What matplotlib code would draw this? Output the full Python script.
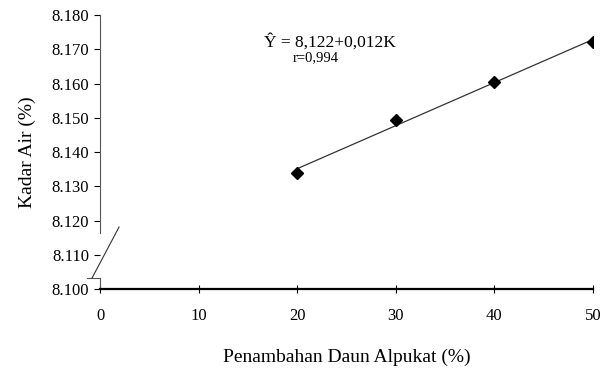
import matplotlib
matplotlib.use('Agg')
import matplotlib.pyplot as plt, numpy as np

plt.rcParams['font.family'] = ['Liberation Serif', 'DejaVu Serif']

# data
daun = [20, 30, 40, 50]
kadar_air = [8.1340, 8.1493, 8.1605, 8.1722]
x_ticks = [0, 10, 20, 30, 40, 50]
y_ticks = [8.100, 8.110, 8.120, 8.130, 8.140, 8.150, 8.160, 8.170, 8.180]

fig = plt.figure(figsize=(6.08, 3.69), dpi=100)
ax = fig.add_axes([0.1645, 0.2168, 0.8105, 0.7422])

# trend line
k, b = np.polyfit(daun, kadar_air, 1)
xs = np.array([daun[0], daun[-1]])
ax.plot(xs, k * xs + b, color='#333333', lw=0.9, zorder=2)
ax.plot(daun, kadar_air, 'D', color='black', ms=6.5, zorder=3)

ax.set_xlim(0, 50)
ax.set_ylim(8.100, 8.180)
ax.set_xticks(x_ticks)
ax.set_yticks(y_ticks)
ax.set_yticklabels(['%.3f' % v for v in y_ticks])
ax.tick_params(axis='y', direction='out', length=4, width=0.8, labelsize=12, pad=4)
ax.tick_params(axis='x', direction='inout', length=6, width=0.8, labelsize=12, pad=10.5)

for s in ['top', 'right']:
    ax.spines[s].set_visible(False)
ax.spines['bottom'].set_linewidth(1.6)
ax.spines['left'].set_linewidth(0.8)
ax.spines['left'].set_color('#555555')
ax.spines['left'].set_bounds(8.1163, 8.180)

# axis break marks
ax.plot([0, 0], [8.100, 8.1032], color='#555555', lw=0.8, clip_on=False)
ax.plot([-1.32, 0.0], [8.1032, 8.1032], color='#555555', lw=0.8, clip_on=False)
ax.plot([-0.81, 1.93], [8.1032, 8.1181], color='#333333', lw=0.8, clip_on=False)

ax.set_ylabel('Kadar Air (%)', fontsize=14, labelpad=11)
ax.set_xlabel('Penambahan Daun Alpukat (%)', fontsize=14, labelpad=18)

ax.text(16.6, 8.1720, 'Ŷ = 8,122+0,012K', fontsize=12.5, ha='left', va='center')
ax.text(19.6, 8.1676, 'r=0,994', fontsize=10.5, ha='left', va='center')

fig.savefig('out.png', dpi=100)
